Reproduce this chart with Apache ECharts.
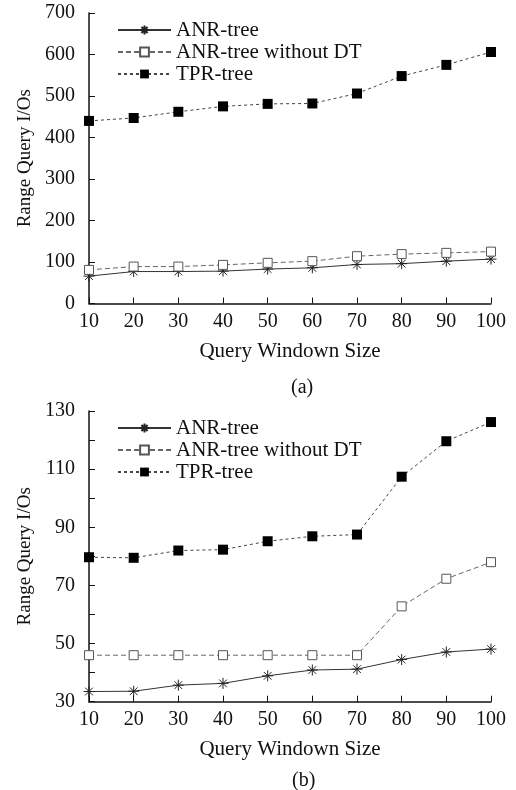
<!DOCTYPE html>
<html>
<head>
<meta charset="utf-8">
<script src="https://cdn.jsdelivr.net/npm/echarts@6/dist/echarts.min.js"></script>
<style>
  html, body { margin: 0; padding: 0; background: #fff; }
  #chart { width: 516px; height: 790px; }
</style>
</head>
<body>
<div id="chart"></div>
<script>
// x categories (query window size)
const windowSizes = ['10', '20', '30', '40', '50', '60', '70', '80', '90', '100']

// (a)
const anrA = [66, 77, 77, 78, 83, 86, 94, 96, 102, 107]
const anrNoDtA = [81, 89, 89, 93, 98, 102, 114, 119, 122, 125]
const tprA = [440, 447, 462, 475, 481, 482, 506, 548, 575, 606]

// (b)
const anrB = [33.5, 33.6, 35.7, 36.3, 38.9, 40.9, 41.2, 44.5, 47.1, 48.1]
const anrNoDtB = [46, 46, 46, 46, 46, 46, 46, 62.8, 72.3, 78]
const tprB = [79.7, 79.5, 82, 82.3, 85.2, 86.9, 87.5, 107.4, 119.6, 126.2]

const seriesNames = ['ANR-tree', 'ANR-tree without DT', 'TPR-tree']
const captions = ['(a)', '(b)']

const FONT = 'Liberation Serif'
const asterisk = 'path://M0,5L10,5M5,0L5,10M1.5,1.5L8.5,8.5M8.5,1.5L1.5,8.5'

const chart = echarts.init(document.getElementById('chart'))

// 每个子图的公共样式
const makeX = (gridIndex) => ({
  type: 'category',
  gridIndex,
  data: windowSizes,
  boundaryGap: false,
  name: 'Query Windown Size',
  nameLocation: 'middle',
  nameGap: 37,
  nameTextStyle: { fontFamily: FONT, fontSize: 21, color: '#111' },
  axisLine: { lineStyle: { color: '#111', width: 1.5 } },
  axisTick: { inside: true, length: 6, alignWithLabel: true, lineStyle: { color: '#111' } },
  axisLabel: { fontFamily: FONT, fontSize: 20, color: '#111', margin: 8 },
  splitLine: { show: false }
})

const makeY = (gridIndex, min, max, interval, fmt) => ({
  type: 'value',
  gridIndex,
  min, max, interval,
  name: 'Range Query I/Os',
  nameLocation: 'middle',
  nameGap: 54,
  nameTextStyle: { fontFamily: FONT, fontSize: 19, color: '#111' },
  axisLine: { show: true, lineStyle: { color: '#111', width: 1.5 } },
  axisTick: { show: true, inside: true, length: 6, lineStyle: { color: '#111' } },
  axisLabel: { fontFamily: FONT, fontSize: 20, color: '#111', margin: 14, formatter: fmt },
  splitLine: { show: false }
})

const makeSeries = (idx, data) => [
  {
    name: seriesNames[0], type: 'line', xAxisIndex: idx, yAxisIndex: idx, data: data[0],
    symbol: asterisk, symbolSize: 11, showSymbol: true,
    itemStyle: { color: 'transparent', borderColor: '#222', borderWidth: 1 },
    lineStyle: { color: '#333', width: 1 }
  },
  {
    name: seriesNames[1], type: 'line', xAxisIndex: idx, yAxisIndex: idx, data: data[1],
    symbol: 'rect', symbolSize: 9,
    itemStyle: { color: '#fff', borderColor: '#555', borderWidth: 1 },
    lineStyle: { color: '#666', width: 1, type: [5, 3] }
  },
  {
    name: seriesNames[2], type: 'line', xAxisIndex: idx, yAxisIndex: idx, data: data[2],
    symbol: 'rect', symbolSize: 10,
    itemStyle: { color: '#000', borderColor: '#000', borderWidth: 0 },
    lineStyle: { color: '#444', width: 1, type: [3, 3] }
  }
]

const makeLegend = (top) => ({
  orient: 'vertical',
  left: 112,
  top,
  itemWidth: 53,
  itemHeight: 11,
  itemGap: 0,
  data: seriesNames,
  textStyle: { fontFamily: FONT, fontSize: 21, lineHeight: 22, color: '#111', padding: 0 }
})

const option = {
  animation: false,
  backgroundColor: '#fff',
  grid: [
    { left: 89, right: 25, top: 13, height: 290.5 },
    { left: 89, right: 25, top: 411, height: 290.7 }
  ],
  title: [
    { text: captions[0], left: 286, top: 373, textStyle: { fontFamily: FONT, fontSize: 20, fontWeight: 'normal', color: '#111' } },
    { text: captions[1], left: 287, top: 766, textStyle: { fontFamily: FONT, fontSize: 20, fontWeight: 'normal', color: '#111' } }
  ],
  legend: [makeLegend(14), makeLegend(412)],
  xAxis: [makeX(0), makeX(1)],
  yAxis: [
    makeY(0, 0, 700, 100),
    makeY(1, 30, 130, 10, (v) => ((v - 30) % 20 === 0 ? String(v) : ''))
  ],
  series: [
    ...makeSeries(0, [anrA, anrNoDtA, tprA]),
    ...makeSeries(1, [anrB, anrNoDtB, tprB])
  ]
}

chart.setOption(option)
</script>
</body>
</html>
